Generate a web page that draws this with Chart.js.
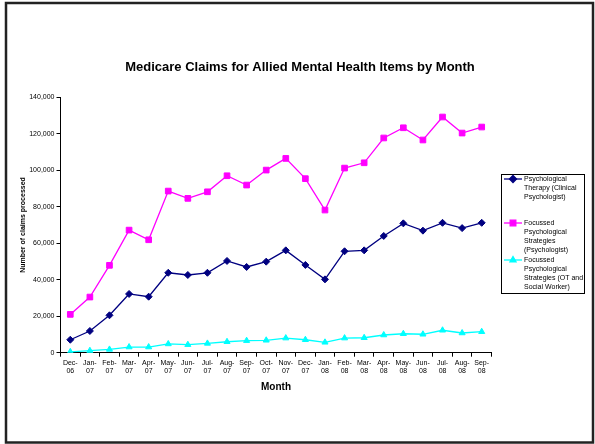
<!DOCTYPE html>
<html>
<head>
<meta charset="utf-8">
<title>Medicare Claims for Allied Mental Health Items by Month</title>
<script src="https://cdn.jsdelivr.net/npm/chart.js@4.4.1/dist/chart.umd.min.js"></script>
<style>
    html, body { margin: 0; padding: 0; background: #fff; }
    canvas { display: block; }
</style>
</head>
<body>
<canvas id="claimsChart" width="595" height="444"></canvas>
<script>
// Medicare claims chart

const CHART_TITLE = 'Medicare Claims for Allied Mental Health Items by Month';

const MONTHS = [
    ['Dec-', '06'], ['Jan-', '07'], ['Feb-', '07'], ['Mar-', '07'], ['Apr-', '07'], ['May-', '07'],
    ['Jun-', '07'], ['Jul-', '07'], ['Aug-', '07'], ['Sep-', '07'], ['Oct-', '07'], ['Nov-', '07'],
    ['Dec-', '07'], ['Jan-', '08'], ['Feb-', '08'], ['Mar-', '08'], ['Apr-', '08'], ['May-', '08'],
    ['Jun-', '08'], ['Jul-', '08'], ['Aug-', '08'], ['Sep-', '08']
];

const CLINICAL_PSYCH = [7100, 11900, 20500, 32200, 30700, 43800, 42600, 43800, 50300, 47000, 49900, 56100,
    48100, 40200, 55600, 56100, 64000, 70900, 66900, 71200, 68300, 71200];

const FOCUSSED_PSYCH = [21000, 30500, 47900, 67200, 61900, 88600, 84600, 88200, 97000, 91900, 100100, 106500,
    95400, 78200, 101200, 104100, 117700, 123300, 116600, 129200, 120400, 123700];

const FOCUSSED_OT_SW = [500, 1100, 1800, 3100, 3100, 4800, 4400, 5100, 6000, 6600, 6800, 8000,
    7100, 5700, 8000, 8200, 9700, 10400, 10100, 12300, 10800, 11500];

const SERIES_NAMES = [
    ['Psychological', 'Therapy (Clinical', 'Psychologist)'],
    ['Focussed', 'Psychological', 'Strategies', '(Psychologist)'],
    ['Focussed', 'Psychological', 'Strategies (OT and', 'Social Worker)']
];

const Y_TICKS = [0, 20000, 40000, 60000, 80000, 100000, 120000, 140000];

const FONT = 'Arial, "Liberation Sans", sans-serif';

// frame, title centred on the whole page, and the boxed legend on the right
const framePlugin = {
    id: 'frameAndLegend',
    afterDraw(chart) {
        const ctx = chart.ctx;
        ctx.save();

        ctx.strokeStyle = '#222';
        ctx.lineWidth = 2.5;
        ctx.strokeRect(6, 3, 587, 439.5);

        ctx.fillStyle = '#000';
        ctx.font = 'bold 13px ' + FONT;
        ctx.textAlign = 'center';
        ctx.textBaseline = 'middle';
        ctx.fillText(CHART_TITLE, 300, 67);

        // legend box
        ctx.strokeStyle = '#000';
        ctx.lineWidth = 1;
        ctx.strokeRect(501.5, 174.5, 83, 119);

        const entryTops = [179, 223, 260];
        ctx.font = '7px ' + FONT;
        ctx.textAlign = 'left';

        chart.data.datasets.forEach((ds, i) => {
            const y = entryTops[i];
            ctx.strokeStyle = ds.borderColor;
            ctx.lineWidth = ds.borderWidth;
            ctx.beginPath();
            ctx.moveTo(504, y);
            ctx.lineTo(522, y);
            ctx.stroke();

            ctx.fillStyle = ds.backgroundColor;
            ctx.strokeStyle = ds.borderColor;
            Chart.helpers.drawPoint(ctx, {
                pointStyle: ds.pointStyle,
                radius: ds.pointRadius,
                rotation: 0,
                borderWidth: 1
            }, 513, y);

            ctx.fillStyle = '#000';
            SERIES_NAMES[i].forEach((line, j) => {
                ctx.fillText(line, 524, y + j * 9);
            });
        });

        ctx.restore();
    }
};

const chart = new Chart(document.getElementById('claimsChart').getContext('2d'), {
    type: 'line',
    data: {
        labels: MONTHS,
        datasets: [
            {
                label: SERIES_NAMES[0].join(' '),
                data: CLINICAL_PSYCH,
                borderColor: '#000080',
                backgroundColor: '#000080',
                borderWidth: 1.3,
                pointStyle: 'rectRot',
                pointRadius: 3.5,
                pointBorderWidth: 1,
                tension: 0
            },
            {
                label: SERIES_NAMES[1].join(' '),
                data: FOCUSSED_PSYCH,
                borderColor: '#ff00ff',
                backgroundColor: '#ff00ff',
                borderWidth: 1.3,
                pointStyle: 'rect',
                pointRadius: 4,
                pointBorderWidth: 1,
                tension: 0
            },
            {
                label: SERIES_NAMES[2].join(' '),
                data: FOCUSSED_OT_SW,
                borderColor: '#00ffff',
                backgroundColor: '#00ffff',
                borderWidth: 1.3,
                pointStyle: 'triangle',
                pointRadius: 3.5,
                pointBorderWidth: 1,
                tension: 0
            }
        ]
    },
    options: {
        responsive: false,
        animation: false,
        layout: {
            padding: { left: 14, right: 103.5, top: 97.3, bottom: 40 }
        },
        plugins: {
            legend: { display: false },
            tooltip: { enabled: false },
            title: { display: false }
        },
        scales: {
            x: {
                offset: true,
                grid: {
                    offset: true,
                    drawOnChartArea: false,
                    drawTicks: true,
                    tickLength: 4,
                    color: '#000'
                },
                border: { color: '#000', width: 1 },
                ticks: {
                    autoSkip: false,
                    maxRotation: 0,
                    minRotation: 0,
                    padding: 2,
                    color: '#000',
                    font: { family: FONT, size: 7 }
                },
                title: {
                    display: true,
                    text: 'Month',
                    color: '#000',
                    font: { family: FONT, size: 10, weight: 'bold' },
                    padding: { top: 0, bottom: 10.5 }
                },
                afterFit(scale) {
                    scale.height = 51.3;
                }
            },
            y: {
                min: 0,
                max: 140000,
                afterBuildTicks(scale) {
                    scale.ticks = Y_TICKS.map(v => ({ value: v }));
                },
                grid: {
                    drawOnChartArea: false,
                    drawTicks: true,
                    tickLength: 4,
                    color: '#000'
                },
                border: { color: '#000', width: 1 },
                ticks: {
                    padding: 2,
                    color: '#000',
                    font: { family: FONT, size: 7 },
                    callback: function(value) {
                        return value.toLocaleString('en-US');
                    }
                },
                title: {
                    display: true,
                    text: 'Number of claims processed',
                    color: '#000',
                    font: { family: FONT, size: 7, weight: 'bold' },
                    padding: { top: 5, bottom: 0 }
                },
                afterFit(scale) {
                    scale.width = 46.5;
                }
            }
        }
    },
    plugins: [framePlugin]
});
</script>
</body>
</html>
